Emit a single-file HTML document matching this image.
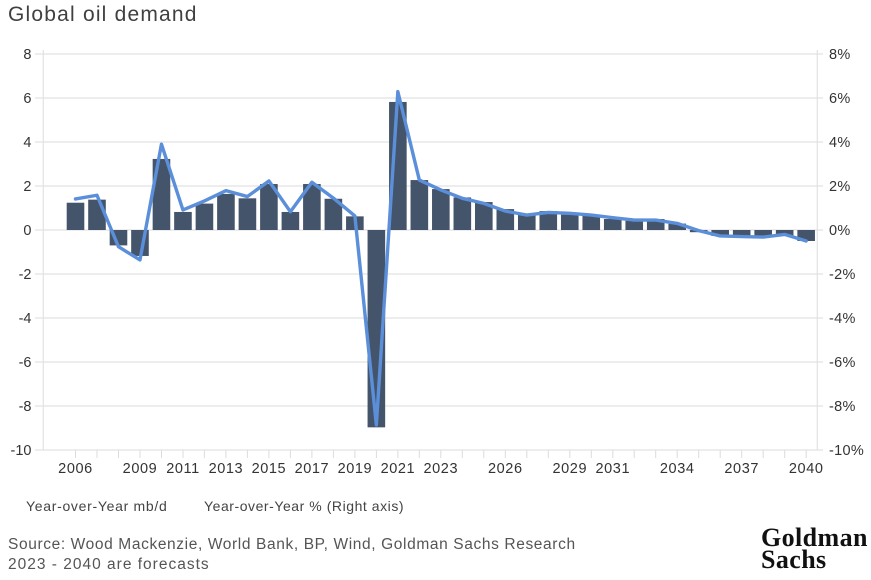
<!DOCTYPE html>
<html><head><meta charset="utf-8"><style>
html,body{margin:0;padding:0;background:#fff;}
body{width:871px;height:580px;overflow:hidden;position:relative;font-family:"Liberation Sans",sans-serif;}
.t{position:absolute;white-space:nowrap;}
</style></head><body>
<svg width="871" height="580" viewBox="0 0 871 580" xmlns="http://www.w3.org/2000/svg" style="position:absolute;left:0;top:0">
<g stroke="#e2e2e2" stroke-width="1.2">
<line x1="35" y1="54" x2="823" y2="54"/>
<line x1="35" y1="98" x2="823" y2="98"/>
<line x1="35" y1="142" x2="823" y2="142"/>
<line x1="35" y1="186" x2="823" y2="186"/>
<line x1="35" y1="230" x2="823" y2="230"/>
<line x1="35" y1="274" x2="823" y2="274"/>
<line x1="35" y1="318" x2="823" y2="318"/>
<line x1="35" y1="362" x2="823" y2="362"/>
<line x1="35" y1="406" x2="823" y2="406"/>
<line x1="35" y1="450" x2="823" y2="450"/>
<line x1="43.3" y1="50" x2="43.3" y2="450"/>
<line x1="817.3" y1="50" x2="817.3" y2="450"/>
</g>
<g stroke="#dcdcdc" stroke-width="1">
<line x1="75.5" y1="450" x2="75.5" y2="458"/><line x1="97" y1="450" x2="97" y2="458"/><line x1="118.5" y1="450" x2="118.5" y2="458"/><line x1="140" y1="450" x2="140" y2="458"/><line x1="161.5" y1="450" x2="161.5" y2="458"/><line x1="183" y1="450" x2="183" y2="458"/><line x1="204.4" y1="450" x2="204.4" y2="458"/><line x1="225.9" y1="450" x2="225.9" y2="458"/><line x1="247.4" y1="450" x2="247.4" y2="458"/><line x1="268.9" y1="450" x2="268.9" y2="458"/><line x1="290.4" y1="450" x2="290.4" y2="458"/><line x1="311.9" y1="450" x2="311.9" y2="458"/><line x1="333.4" y1="450" x2="333.4" y2="458"/><line x1="354.9" y1="450" x2="354.9" y2="458"/><line x1="376.4" y1="450" x2="376.4" y2="458"/><line x1="397.9" y1="450" x2="397.9" y2="458"/><line x1="419.3" y1="450" x2="419.3" y2="458"/><line x1="440.8" y1="450" x2="440.8" y2="458"/><line x1="462.3" y1="450" x2="462.3" y2="458"/><line x1="483.8" y1="450" x2="483.8" y2="458"/><line x1="505.3" y1="450" x2="505.3" y2="458"/><line x1="526.8" y1="450" x2="526.8" y2="458"/><line x1="548.3" y1="450" x2="548.3" y2="458"/><line x1="569.8" y1="450" x2="569.8" y2="458"/><line x1="591.3" y1="450" x2="591.3" y2="458"/><line x1="612.8" y1="450" x2="612.8" y2="458"/><line x1="634.2" y1="450" x2="634.2" y2="458"/><line x1="655.7" y1="450" x2="655.7" y2="458"/><line x1="677.2" y1="450" x2="677.2" y2="458"/><line x1="698.7" y1="450" x2="698.7" y2="458"/><line x1="720.2" y1="450" x2="720.2" y2="458"/><line x1="741.7" y1="450" x2="741.7" y2="458"/><line x1="763.2" y1="450" x2="763.2" y2="458"/><line x1="784.7" y1="450" x2="784.7" y2="458"/><line x1="806.2" y1="450" x2="806.2" y2="458"/>
</g>
<g fill="#44546a">
<rect x="66.7" y="202.72" width="17.6" height="27.28"/>
<rect x="88.19" y="199.64" width="17.6" height="30.36"/>
<rect x="109.68" y="230" width="17.6" height="15.4"/>
<rect x="131.17" y="230" width="17.6" height="25.96"/>
<rect x="152.66" y="158.94" width="17.6" height="71.06"/>
<rect x="174.15" y="211.96" width="17.6" height="18.04"/>
<rect x="195.64" y="203.6" width="17.6" height="26.4"/>
<rect x="217.13" y="193.92" width="17.6" height="36.08"/>
<rect x="238.62" y="198.32" width="17.6" height="31.68"/>
<rect x="260.11" y="184.02" width="17.6" height="45.98"/>
<rect x="281.6" y="211.96" width="17.6" height="18.04"/>
<rect x="303.09" y="184.02" width="17.6" height="45.98"/>
<rect x="324.58" y="198.76" width="17.6" height="31.24"/>
<rect x="346.07" y="216.36" width="17.6" height="13.64"/>
<rect x="367.56" y="230" width="17.6" height="197.34"/>
<rect x="389.05" y="101.96" width="17.6" height="128.04"/>
<rect x="410.54" y="180.06" width="17.6" height="49.94"/>
<rect x="432.03" y="189.08" width="17.6" height="40.92"/>
<rect x="453.52" y="197.44" width="17.6" height="32.56"/>
<rect x="475.01" y="202.06" width="17.6" height="27.94"/>
<rect x="496.5" y="209.1" width="17.6" height="20.9"/>
<rect x="517.99" y="214.38" width="17.6" height="15.62"/>
<rect x="539.48" y="211.08" width="17.6" height="18.92"/>
<rect x="560.97" y="214.6" width="17.6" height="15.4"/>
<rect x="582.46" y="215.7" width="17.6" height="14.3"/>
<rect x="603.95" y="219" width="17.6" height="11"/>
<rect x="625.44" y="220.76" width="17.6" height="9.24"/>
<rect x="646.93" y="219" width="17.6" height="11"/>
<rect x="668.42" y="223.62" width="17.6" height="6.38"/>
<rect x="689.91" y="230" width="17.6" height="2.2"/>
<rect x="711.4" y="230" width="17.6" height="5.94"/>
<rect x="732.89" y="230" width="17.6" height="5.94"/>
<rect x="754.38" y="230" width="17.6" height="5.94"/>
<rect x="775.87" y="230" width="17.6" height="5.94"/>
<rect x="797.36" y="230" width="17.6" height="11"/>
</g>
<polyline fill="none" stroke="#5b8fd9" stroke-width="3.4" stroke-linejoin="round" stroke-linecap="round" points="75.5,198.98 96.99,195.24 118.48,246.72 139.97,259.92 161.46,144.2 182.95,209.98 204.44,200.96 225.93,190.62 247.42,196.56 268.91,180.94 290.4,211.74 311.89,182.26 333.38,198.1 354.87,215.92 376.36,424.92 397.85,91.62 419.34,180.06 440.83,189.96 462.32,198.32 483.81,203.38 505.3,211.08 526.79,215.04 548.28,212.4 569.77,213.28 591.26,215.04 612.75,217.68 634.24,220.1 655.73,220.1 677.22,223.4 698.71,230.66 720.2,235.94 741.69,236.6 763.18,237.04 784.67,234.4 806.16,241"/>
<g font-family="Liberation Sans, sans-serif" font-size="14.5" fill="#333" text-anchor="end">
<text x="31.5" y="59">8</text>
<text x="31.5" y="103">6</text>
<text x="31.5" y="147">4</text>
<text x="31.5" y="191">2</text>
<text x="31.5" y="235">0</text>
<text x="31.5" y="279">-2</text>
<text x="31.5" y="323">-4</text>
<text x="31.5" y="367">-6</text>
<text x="31.5" y="411">-8</text>
<text x="31.5" y="455">-10</text>
</g>
<g font-family="Liberation Sans, sans-serif" font-size="14.5" fill="#333" text-anchor="start" letter-spacing="0.3">
<text x="829" y="59">8%</text>
<text x="829" y="103">6%</text>
<text x="829" y="147">4%</text>
<text x="829" y="191">2%</text>
<text x="829" y="235">0%</text>
<text x="829" y="279">-2%</text>
<text x="829" y="323">-4%</text>
<text x="829" y="367">-6%</text>
<text x="829" y="411">-8%</text>
<text x="829" y="455">-10%</text>
</g>
<g font-family="Liberation Sans, sans-serif" font-size="14.5" fill="#333" text-anchor="middle" letter-spacing="0.6">
<text x="75.5" y="473">2006</text>
<text x="140" y="473">2009</text>
<text x="183" y="473">2011</text>
<text x="225.9" y="473">2013</text>
<text x="268.9" y="473">2015</text>
<text x="311.9" y="473">2017</text>
<text x="354.9" y="473">2019</text>
<text x="397.9" y="473">2021</text>
<text x="440.8" y="473">2023</text>
<text x="505.3" y="473">2026</text>
<text x="569.8" y="473">2029</text>
<text x="612.8" y="473">2031</text>
<text x="677.2" y="473">2034</text>
<text x="741.7" y="473">2037</text>
<text x="806.2" y="473">2040</text>
</g>
</svg>
<div class="t" style="left:8px;top:3px;font-size:21px;letter-spacing:1.2px;color:#404040;">Global oil demand</div>
<div class="t" style="left:26px;top:498px;font-size:14px;letter-spacing:0.7px;color:#444;">Year-over-Year mb/d</div>
<div class="t" style="left:204px;top:498px;font-size:14px;letter-spacing:0.55px;color:#444;">Year-over-Year % (Right axis)</div>
<div class="t" style="left:8px;top:536px;font-size:15.5px;letter-spacing:0.62px;color:#555;">Source: Wood Mackenzie, World Bank, BP, Wind, Goldman Sachs Research</div>
<div class="t" style="left:8px;top:556px;font-size:15.5px;letter-spacing:1.0px;color:#555;">2023 - 2040 are forecasts</div>
<div class="t" style="left:761px;top:527px;font-family:'Liberation Serif',serif;font-weight:bold;font-size:26px;line-height:22px;color:#111;letter-spacing:0.4px;">Goldman<br>Sachs</div>
</body></html>
